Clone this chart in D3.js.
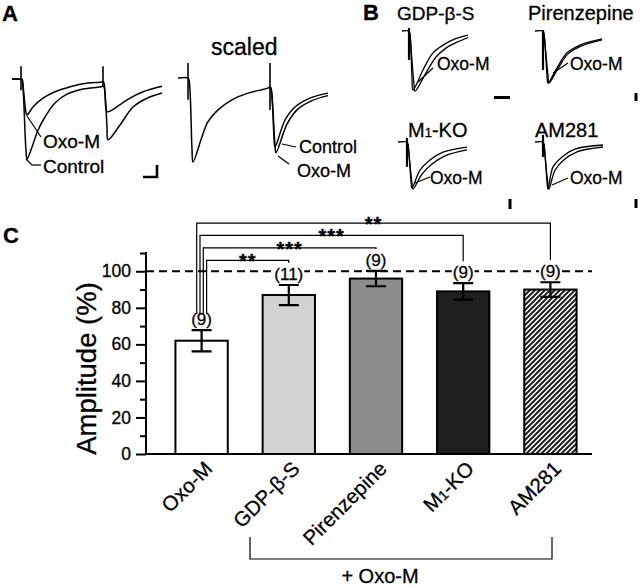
<!DOCTYPE html>
<html><head><meta charset="utf-8">
<script src="https://cdn.jsdelivr.net/npm/d3@7"></script>
<style>
body{margin:0;background:#fff}
svg{display:block}
text{font-family:"Liberation Sans",Arial,Helvetica,sans-serif;fill:#000;stroke:#000;stroke-width:0.3px}
</style></head>
<body><svg id="fig" width="640" height="587"></svg>
<script>
// ---------------- DATA ----------------
// Panel C: bar chart
const categories = ["Oxo-M", "GDP-β-S", "Pirenzepine", "M1-KO", "AM281"];
const means = [62, 87, 96, 89, 90];
const sems = [5.8, 5.5, 4.2, 4.5, 4];
const nCells = ["(9)", "(11)", "(9)", "(9)", "(9)"];
const sigTargets = [1, 2, 3, 4];            // compared against Oxo-M (index 0)
const sigLabels = ["**", "***", "***", "**"];
const yMajorTicks = [0, 20, 40, 60, 80, 100];
const yMinorTicks = [10, 30, 50, 70, 90, 110];
const refLevel = 100;
const bracketLabel = "+ Oxo-M";

// Panel A traces: [time (ms), normalized current]
const aControl = [[-9,0],[-1,0],[1,0],[2,-0.1],[5,-0.9],[6,-1.0],[11,-0.85],[17,-0.64],[24,-0.475],[34,-0.3],[46,-0.19],[62,-0.125],[79,-0.1],[82,-0.09],[83,-0.1],[86,-0.6],[87,-0.76],[99,-0.575],[112,-0.35],[126,-0.24],[141,-0.175]];
const aOxoM = [[1,0],[2,-0.08],[5,-0.42],[6,-0.45],[12,-0.35],[22,-0.24],[34,-0.16],[46,-0.11],[62,-0.06],[79,-0.04],[82,-0.035],[83,-0.05],[85,-0.38],[86,-0.41],[91,-0.39],[106,-0.26],[122,-0.16],[141,-0.09]];
const aArtifacts = [[0,0.16,-0.14],[82,0.16,-0.1]];
const sControl = [[-10,0],[0,0],[1,-0.02],[4,-0.85],[5,-1.0],[14,-0.70],[20,-0.52],[30,-0.38],[44,-0.26],[60,-0.18],[80,-0.12],[82,-0.107],[83,-0.12],[86,-0.7],[87,-0.82],[97,-0.5],[107,-0.345],[122,-0.24],[140,-0.18]];
const sOxoM = [[82,-0.107],[83,-0.13],[87,-0.8],[88,-0.89],[99,-0.55],[109,-0.38],[124,-0.27],[140,-0.21]];
const sArtifacts = [[0,0.18,-0.26],[82,0.18,-0.38]];

// Panel B traces: [time (ms), normalized current]
const bTitles = ["GDP-β-S", "Pirenzepine", "M1-KO", "AM281"];
const bTraceA = [
  [[-7,0],[0,0],[1,-0.05],[3,-0.8],[4,-1],[14,-0.66],[24,-0.37],[34,-0.24],[46,-0.135],[59,-0.07]],
  [[-8,0],[0,0],[1,-0.05],[4,-0.85],[5,-1],[14,-0.71],[24,-0.42],[37,-0.27],[59,-0.15]],
  [[-9,0],[0,0],[1,-0.05],[4,-0.85],[5,-1],[13,-0.61],[23,-0.39],[36,-0.22],[60,-0.11]],
  [[-8,0],[0,0],[1,-0.05],[4,-0.85],[5,-1],[10,-0.53],[19,-0.32],[32,-0.15],[60,-0.064]]
];
const bTraceB = [
  [[1,-0.05],[5,-0.9],[6,-1.02],[17,-0.71],[27,-0.44],[37,-0.29],[48,-0.19],[59,-0.11]],
  [[1,-0.05],[5,-0.85],[6,-1],[15,-0.72],[25,-0.44],[38,-0.29],[59,-0.17]],
  [[1,-0.05],[5,-0.9],[6,-1.02],[15,-0.70],[25,-0.48],[38,-0.30],[60,-0.17]],
  [[1,-0.05],[5,-0.9],[6,-1.0],[12,-0.6],[21,-0.38],[34,-0.21],[60,-0.106]]
];
const bArtifacts = [[0.05,-0.49],[0.02,-0.75],[0.09,-0.54],[0.15,-0.32]];

// ---------------- DRAW ----------------
const svg = d3.select("#fig");
const font = '"Liberation Sans",Arial,Helvetica,sans-serif';

// Panel letters
svg.append("text").attr("x", 2).attr("y", 21).attr("font-size", 22).attr("font-weight", "bold").text("A");
svg.append("text").attr("x", 363).attr("y", 20).attr("font-size", 22).attr("font-weight", "bold").text("B");
svg.append("text").attr("x", 3).attr("y", 243).attr("font-size", 22).attr("font-weight", "bold").text("C");

const lineGen = (xs, ys) => d3.line().x(d => xs(d[0])).y(d => ys(d[1])).curve(d3.curveCatmullRom.alpha(0.5));

function drawTrace(g, data, xs, ys, w) {
  g.append("path").attr("d", lineGen(xs, ys)(data)).attr("fill", "none")
    .attr("stroke", "#000").attr("stroke-width", w || 1.5).attr("stroke-linejoin", "round");
}
function drawArtifact(g, a, xs, ys, w) {
  g.append("line").attr("x1", xs(a[0])).attr("x2", xs(a[0])).attr("y1", ys(a[1])).attr("y2", ys(a[2]))
    .attr("stroke", "#000").attr("stroke-width", w || 1.6);
}
function label(g, x, y, txt, size) {
  return g.append("text").attr("x", x).attr("y", y).attr("font-size", size).text(txt);
}
function pointer(g, x1, y1, x2, y2) {
  g.append("line").attr("x1", x1).attr("y1", y1).attr("x2", x2).attr("y2", y2).attr("stroke", "#000").attr("stroke-width", 1.2);
}

// ---- Panel A left (raw) ----
{
  const g = svg.append("g");
  const xs = d3.scaleLinear().domain([0, 141]).range([21, 162]);
  const ys = d3.scaleLinear().domain([0, -1]).range([79, 159]);
  drawTrace(g, [[-9,0],[0,0]], xs, ys);
  drawTrace(g, aControl, xs, ys);
  drawTrace(g, aOxoM, xs, ys);
  aArtifacts.forEach(a => drawArtifact(g, a, xs, ys));
  pointer(g, 27, 116, 41, 137);
  pointer(g, 26, 159, 32, 165); pointer(g, 32, 165, 41, 165);
  label(g, 43, 148, "Oxo-M", 19);
  label(g, 43, 173, "Control", 19);
  // scale bar
  g.append("path").attr("d", "M143,177 H158 M157,165 V178").attr("stroke", "#000").attr("stroke-width", 2.6).attr("fill", "none");
}
// ---- Panel A right (scaled) ----
{
  const g = svg.append("g");
  const xs = d3.scaleLinear().domain([0, 140]).range([188, 328]);
  const ys = d3.scaleLinear().domain([0, -1]).range([78, 162]);
  drawTrace(g, sControl, xs, ys);
  drawTrace(g, sOxoM, xs, ys);
  sArtifacts.forEach(a => drawArtifact(g, a, xs, ys));
  label(g, 211, 55, "scaled", 23);
  pointer(g, 282, 144, 296, 147);
  pointer(g, 278, 156, 289, 164);
  label(g, 299, 153, "Control", 18);
  label(g, 297, 177, "Oxo-M", 18);
}
// ---- Panel B ----
{
  const origins = [[409, 31, 59], [543, 31, 52], [407, 142, 46], [543, 142, 47]];
  const titlePos = [[397, 20], [528, 20], [408, 137], [535, 137]];
  const titleSize = [19, 20, 20, 20];
  const ptr = [[418, 82, 433, 68], [553, 73, 568, 63], [415, 183, 430, 177], [552, 185, 568, 178]];
  const lab = [[437, 70], [570, 70], [430, 184], [570, 184]];
  bTitles.forEach((t, i) => {
    const g = svg.append("g");
    const [x0, y0, amp] = origins[i];
    const xs = d3.scaleLinear().domain([0, 60]).range([x0, x0 + 60]);
    const ys = d3.scaleLinear().domain([0, -1]).range([y0, y0 + amp]);
    drawTrace(g, bTraceA[i], xs, ys, 1.3);
    drawTrace(g, bTraceB[i], xs, ys, 1.3);
    drawArtifact(g, [0, bArtifacts[i][0], bArtifacts[i][1]], xs, ys, 2.2);
    const tt = g.append("text").attr("x", titlePos[i][0]).attr("y", titlePos[i][1]).attr("font-size", titleSize[i]);
    if (t === "M1-KO") {
      tt.append("tspan").text("M");
      tt.append("tspan").attr("font-size", 13).text("1");
      tt.append("tspan").text("-KO");
    } else tt.text(t);
    pointer(g, ...ptr[i]);
    label(g, lab[i][0], lab[i][1], "Oxo-M", 17.5);
  });
  // scale bars
  svg.append("path").attr("d", "M494,97.5 H510 M636,93 V101 M510,199 V209 M636,199 V208")
    .attr("stroke", "#000").attr("stroke-width", 3).attr("fill", "none");
}

// ---- Panel C: bar chart ----
const x = d3.scaleBand().domain(categories).range([158, 594]).paddingInner(0.4).paddingOuter(0.2);
const y = d3.scaleLinear().domain([0, 110]).range([454, 253]);
const fills = ["#ffffff", "#d2d2d2", "#8c8c8c", "#1f1f1f", "url(#hatch)"];

const defs = svg.append("defs");
const pat = defs.append("pattern").attr("id", "hatch").attr("patternUnits", "userSpaceOnUse")
  .attr("width", 5).attr("height", 5);
pat.append("rect").attr("width", 5).attr("height", 5).attr("fill", "#fff");
pat.append("path").attr("d", "M-1,1 L1,-1 M0,5 L5,0 M4,6 L6,4").attr("stroke", "#1f1f1f").attr("stroke-width", 2);

const gc = svg.append("g");
// dashed reference
gc.append("line").attr("x1", 146).attr("x2", 592).attr("y1", y(refLevel)).attr("y2", y(refLevel))
  .attr("stroke", "#000").attr("stroke-width", 2).attr("stroke-dasharray", "8,5");

// bars
gc.selectAll("rect.bar").data(categories).join("rect").attr("class", "bar")
  .attr("x", d => x(d)).attr("width", x.bandwidth())
  .attr("y", (d, i) => y(means[i])).attr("height", (d, i) => y(0) - y(means[i]))
  .attr("fill", (d, i) => fills[i]).attr("stroke", "#000").attr("stroke-width", 2);

// error bars
categories.forEach((c, i) => {
  const cx = x(c) + x.bandwidth() / 2;
  const top = y(means[i] + sems[i]), bot = y(means[i] - sems[i]);
  gc.append("path").attr("d", `M${cx},${top} V${bot} M${cx - 10},${top} H${cx + 10} M${cx - 10},${bot} H${cx + 10}`)
    .attr("stroke", "#000").attr("stroke-width", 2.2).attr("fill", "none");
});

// n labels with white background
categories.forEach((c, i) => {
  const cx = x(c) + x.bandwidth() / 2;
  const ty = y(means[i] + sems[i]) - 5;
  const t = gc.append("text").attr("x", cx).attr("y", ty).attr("text-anchor", "middle").attr("font-size", 17).text(nCells[i]);
  const bb = t.node().getBBox();
  gc.insert("rect", () => t.node()).attr("x", bb.x - 1).attr("y", bb.y + 2).attr("width", bb.width + 2).attr("height", bb.height - 4).attr("fill", "#fff");
});

// axes
const yAxis = d3.axisLeft(y).tickValues(yMajorTicks).tickSize(10).tickPadding(5).tickFormat(d3.format("d"));
const ga = gc.append("g").attr("transform", "translate(146,0)").call(yAxis);
ga.select(".domain").remove();
ga.selectAll("line").attr("stroke-width", 2);
ga.selectAll("text").attr("font-size", 17.5).attr("font-family", font).attr("fill", "#000");
const gm = gc.append("g").attr("transform", "translate(146,0)").call(d3.axisLeft(y).tickValues(yMinorTicks).tickSize(6).tickFormat(""));
gm.select(".domain").remove();
gm.selectAll("line").attr("stroke-width", 2);
gc.append("line").attr("x1", 146).attr("x2", 146).attr("y1", y(110) - 1).attr("y2", y(0) + 1).attr("stroke", "#000").attr("stroke-width", 2);
gc.append("line").attr("x1", 145).attr("x2", 592).attr("y1", y(0)).attr("y2", y(0)).attr("stroke", "#000").attr("stroke-width", 2);

// y label
gc.append("text").attr("transform", `translate(96,${(y(0) + y(110)) / 2 + 15}) rotate(-90)`)
  .attr("text-anchor", "middle").attr("font-size", 27.5).text("Amplitude (%)");

// x labels rotated
categories.forEach((c, i) => {
  const cx = x(c) + x.bandwidth() / 2 + 12;
  const t = gc.append("text").attr("transform", `translate(${cx},470) rotate(-45)`).attr("text-anchor", "end").attr("font-size", 20.5);
  if (c === "M1-KO") {
    t.append("tspan").text("M");
    t.append("tspan").attr("font-size", 14).text("1");
    t.append("tspan").text("-KO");
  } else t.text(c);
});

// significance brackets
const cx0 = x(categories[0]) + x.bandwidth() / 2;
const bracketBase = y(means[0] + sems[0]) - 16;
sigTargets.forEach((ti, k) => {
  const level = y(106 + k * 6.8);
  const lx = cx0 + 5 - k * 3.3;
  const rx = x(categories[ti]) + x.bandwidth() / 2;
  const nTop = y(means[ti] + sems[ti]) - 22;
  const rEnd = Math.min(nTop, y(100) - 6);
  gc.append("path").attr("d", `M${lx},${bracketBase} V${level} H${rx} V${rEnd}`)
    .attr("stroke", "#000").attr("stroke-width", 1.2).attr("fill", "none");
  gc.append("text").attr("x", (lx + rx) / 2).attr("y", level + 8).attr("text-anchor", "middle")
    .attr("font-size", 20).attr("font-weight", "bold").attr("letter-spacing", 1).text(sigLabels[k]);
});

// bottom bracket "+ Oxo-M"
gc.append("path").attr("d", "M250,537 V559 H552 V537").attr("stroke", "#000").attr("stroke-width", 1.2).attr("fill", "none");
gc.append("text").attr("x", 380).attr("y", 583).attr("text-anchor", "middle").attr("font-size", 20).text(bracketLabel);
</script>
</body></html>
